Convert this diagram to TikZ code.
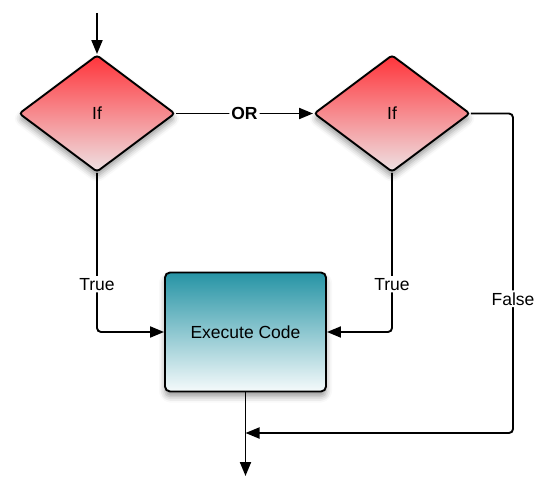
\documentclass[tikz,border=0pt]{standalone}
\usepackage{fontspec}
\setmainfont{Liberation Sans}
\usetikzlibrary{shapes.geometric,arrows.meta,shadows.blur}
\begin{document}
\begin{tikzpicture}[x=1pt,y=-1pt,
  every node/.style={font=\fontsize{17.5}{20}\selectfont},
  conn/.style={line width=1.9pt,rounded corners=4pt,-{Triangle[length=14pt,width=11pt]}},
  lbl/.style={fill=white,inner sep=2pt},
  dec/.style={diamond,draw=black,line width=1.9pt,rounded corners=3pt,inner sep=0pt,
    minimum width=156pt,minimum height=117pt,aspect=1.333,
    top color={rgb,255:red,255;green,52;blue,58},bottom color={rgb,255:red,238;green,226;blue,228},
    blur shadow={shadow xshift=0pt,shadow yshift=-5pt,shadow blur radius=6pt,shadow opacity=40}},
  proc/.style={rectangle,draw=black,line width=1.9pt,rounded corners=5pt,
    minimum width=161pt,minimum height=119pt,
    top color={rgb,255:red,38;green,148;blue,165},bottom color={rgb,255:red,245;green,250;blue,251},
    blur shadow={shadow xshift=0pt,shadow yshift=-5pt,shadow blur radius=6pt,shadow opacity=40}}]
\useasboundingbox (0,0) rectangle (548,497);
\coordinate (start) at (97,13);
\node[dec] (d1) at (97,113.5) {If};
\node[dec] (d2) at (392,113.5) {If};
\node[proc] (box) at (245.5,332) {Execute Code};
\coordinate (fc) at (513,433);
\coordinate (m) at (245.5,433);
\coordinate (end) at (245.5,476);
\draw[conn] (start) -- (d1.north);
\draw[conn] (d1.east) -- node[lbl,font=\fontsize{17.5}{20}\selectfont\bfseries]{OR} (d2.west);
\draw[conn] (d1.south) |- node[lbl,pos=0.35]{True} (box.west);
\draw[conn] (d2.south) |- node[lbl,pos=0.35]{True} (box.east);
\draw[conn] (d2.east) -| node[lbl,pos=0.79]{False} (fc) -- (m);
\draw[conn] (box.south) -- (end);
\end{tikzpicture}
\end{document}
